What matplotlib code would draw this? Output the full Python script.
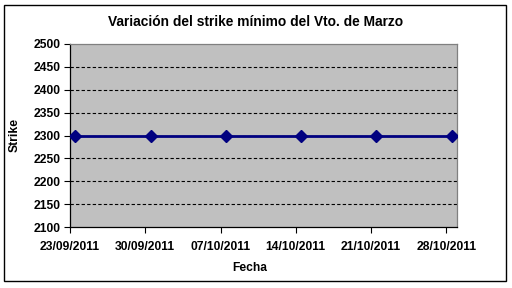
import matplotlib
matplotlib.use("Agg")
import matplotlib.pyplot as plt
from matplotlib.patches import Rectangle
import numpy as np

# data
fechas = ["23/09/2011", "30/09/2011", "07/10/2011", "14/10/2011", "21/10/2011", "28/10/2011"]
dias = [0, 7, 14, 21, 28, 35]   # days since 23/09/2011
strike = [2300, 2300, 2300, 2300, 2300, 2300]

plt.rcParams['font.family'] = ['Liberation Sans', 'DejaVu Sans']
plt.rcParams['font.weight'] = 'bold'

fig = plt.figure(figsize=(5.12, 2.88), dpi=100)
fig.patch.set_facecolor('white')
ax = fig.add_axes([70 / 512, 1 - 227 / 288, 387 / 512, 183 / 288])
ax.set_facecolor('#C0C0C0')

ax.plot(dias, strike, color='#000080', lw=2, marker='D', ms=6,
        markerfacecolor='#000080', markeredgecolor='#000080', zorder=3)

ax.set_xlim(-0.5, 35.5)
ax.set_ylim(2100, 2500)
ax.set_yticks(np.arange(2100, 2501, 50))
ax.set_xticks([d - 0.5 for d in dias])
ax.set_xticklabels(fechas)
for y in np.arange(2150, 2500, 50):
    ax.axhline(y, color='black', lw=0.8, ls=(0, (3, 2)), zorder=1)

ax.tick_params(axis='both', labelsize=8.7, direction='out', length=4, width=0.8, color='black')
ax.tick_params(axis='x', pad=6)
ax.tick_params(axis='y', pad=3)
for lab in ax.get_xticklabels() + ax.get_yticklabels():
    lab.set_fontweight('bold')

ax.spines['left'].set_color('black')
ax.spines['bottom'].set_color('black')
ax.spines['top'].set_color('#808080')
ax.spines['right'].set_color('#808080')
for s in ax.spines.values():
    s.set_linewidth(0.9)

fig.text(256 / 512, 1 - 22 / 288, "Variación del strike mínimo del Vto. de Marzo",
         ha='center', va='center', fontsize=9.9, fontweight='bold')
fig.text(15 / 512, 1 - 135 / 288, "Strike", rotation=90, ha='center', va='center',
         fontsize=8.7, fontweight='bold')
fig.text(250 / 512, 1 - 268 / 288, "Fecha", ha='center', va='center',
         fontsize=8.7, fontweight='bold')

fig.patches.append(Rectangle((4 / 512, 1 - 281 / 288), 502 / 512, 276 / 288,
                             transform=fig.transFigure, fill=False,
                             edgecolor='black', lw=1))

fig.savefig("out.png", dpi=100)
